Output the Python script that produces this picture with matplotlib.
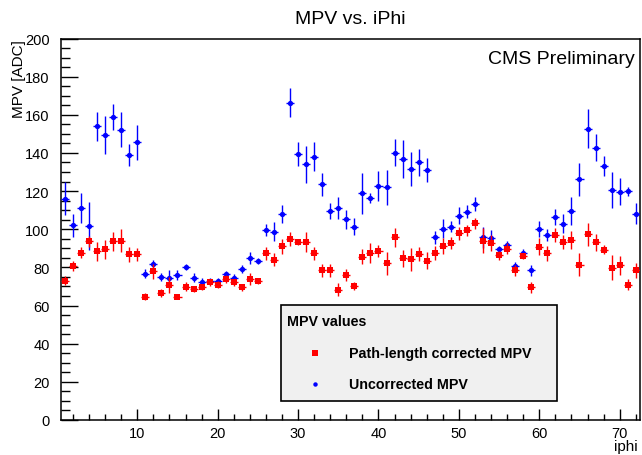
import numpy as np
import matplotlib
matplotlib.use("Agg")
import matplotlib.pyplot as plt
from matplotlib.patches import Rectangle
from matplotlib.lines import Line2D
from matplotlib.ticker import MultipleLocator

plt.rcParams['font.family'] = ['Liberation Sans', 'DejaVu Sans']

iphi = list(range(1, 73))

mpv_corrected = [73.1, 80.5, 87.7, 93.6, 88.4, 89.4, 93.6, 94.1, 86.8, 86.8,
                 64.7, 77.9, 66.7, 70.9, 64.7, 69.8, 68.9, 69.8, 72.1, 71.0,
                 74.0, 72.1, 69.5, 74.0, 72.8, 87.3, 84.0, 91.0, 95.0, 93.1,
                 93.4, 87.3, 78.4, 78.4, 68.4, 76.1, 70.3, 85.7, 87.5, 88.7,
                 82.2, 95.7, 84.7, 84.2, 87.0, 83.5, 87.5, 91.0, 92.7, 97.8,
                 99.4, 103.1, 94.1, 92.9, 86.3, 89.9, 78.4, 86.1, 69.5, 90.8,
                 87.5, 97.0, 93.1, 94.5, 81.5, 97.3, 93.1, 89.2, 79.8, 81.0,
                 71.0, 78.4]
err_corrected = [2.3, 2.6, 2.9, 3.0, 5.1, 5.2, 4.8, 5.9, 3.8, 3.3,
                 2.0, 4.1, 2.2, 4.1, 1.3, 2.3, 1.6, 1.7, 1.9, 2.0,
                 2.1, 1.9, 2.0, 3.1, 1.5, 3.5, 3.3, 4.1, 3.8, 1.6,
                 5.2, 3.5, 3.5, 3.5, 3.2, 3.0, 1.9, 3.9, 5.1, 3.2,
                 6.1, 4.8, 4.4, 6.1, 3.9, 4.4, 3.5, 4.2, 3.0, 3.4,
                 3.0, 3.0, 6.3, 4.1, 2.4, 3.0, 3.0, 1.7, 2.7, 4.4,
                 3.9, 3.7, 3.7, 4.6, 6.1, 6.0, 4.5, 2.4, 6.6, 5.2,
                 3.0, 3.8]

mpv_uncorrected = [116.0, 102.0, 111.1, 101.7, 154.0, 149.4, 158.9, 152.2, 138.9, 145.6,
                   76.8, 81.7, 75.1, 74.7, 76.1, 80.3, 74.7, 72.6, 72.9, 72.7,
                   76.3, 74.7, 79.1, 84.9, 83.5, 99.7, 98.7, 108.0, 166.4, 139.5,
                   134.0, 138.1, 123.5, 109.5, 111.1, 105.2, 101.3, 118.8, 116.5, 122.8,
                   122.0, 140.2, 136.7, 131.6, 135.1, 131.1, 95.9, 100.3, 101.3, 107.1,
                   109.2, 113.2, 95.9, 95.5, 89.4, 91.5, 80.5, 87.5, 78.4, 100.1,
                   97.1, 106.4, 102.9, 109.7, 126.1, 152.8, 142.8, 133.0, 120.7, 119.7,
                   119.8, 108.1]
err_uncorrected = [8.6, 6.1, 7.7, 12.7, 7.7, 10.0, 6.9, 9.1, 5.8, 9.2,
                   2.1, 2.2, 2.0, 4.0, 2.6, 1.7, 2.6, 1.6, 1.7, 1.5,
                   2.0, 1.7, 1.9, 3.2, 1.5, 3.0, 5.1, 4.5, 7.4, 6.5,
                   9.6, 7.6, 6.2, 4.2, 5.6, 4.9, 4.5, 10.8, 2.7, 7.9,
                   9.1, 7.1, 10.0, 9.1, 7.2, 6.3, 3.4, 4.9, 2.9, 4.6,
                   3.5, 3.6, 5.5, 4.0, 2.0, 2.1, 2.4, 2.0, 3.0, 4.2,
                   3.0, 4.4, 5.0, 7.4, 8.5, 10.0, 6.9, 5.3, 9.4, 7.0,
                   2.5, 5.6]

title = "MPV vs. iPhi"
xlabel = "iphi"
ylabel = "MPV [ADC]"
legend_title = "MPV values"
label_corr = "Path-length corrected MPV"
label_uncorr = "Uncorrected MPV"
watermark = "CMS Preliminary"

fig = plt.figure(figsize=(6.42, 4.56), dpi=100)
ax = fig.add_axes([60.9 / 642, 1 - 421 / 456, (639.8 - 60.9) / 642, (421 - 39.5) / 456])

ax.errorbar(iphi, mpv_uncorrected, yerr=err_uncorrected, xerr=0.5, fmt='o',
            color='#0000ff', ecolor='#0000ff', elinewidth=1.0, capsize=0,
            markersize=3.8, markeredgewidth=0, zorder=3)
ax.errorbar(iphi, mpv_corrected, yerr=err_corrected, xerr=0.5, fmt='s',
            color='#ff0000', ecolor='#ff0000', elinewidth=1.0, capsize=0,
            markersize=4.8, markeredgewidth=0, zorder=4)

ax.set_xlim(0.5, 72.5)
ax.set_ylim(0, 200)
ax.xaxis.set_major_locator(MultipleLocator(10))
ax.xaxis.set_minor_locator(MultipleLocator(2))
ax.yaxis.set_major_locator(MultipleLocator(20))
ax.yaxis.set_minor_locator(MultipleLocator(5))
ax.tick_params(axis='both', which='both', direction='in', top=False, right=False,
               width=1.0, color='black', labelsize=10.5)
ax.tick_params(axis='y', which='major', length=12, pad=8)
ax.tick_params(axis='y', which='minor', length=6.5)
ax.tick_params(axis='x', which='major', length=8, pad=4)
ax.tick_params(axis='x', which='minor', length=4.3)
for s in ax.spines.values():
    s.set_linewidth(1.1)
    s.set_color('black')

fig.text(350 / 642, 1 - 20 / 456, title, ha='center', va='center', fontsize=14)
fig.text(638 / 642, 1 - 451 / 456, xlabel, ha='right', va='baseline', fontsize=11)
fig.text(19 / 642, 1 - 40 / 456, ylabel, ha='center', va='top', rotation=90, fontsize=11)
fig.text(635 / 642, 1 - 59 / 456, watermark, ha='right', va='center', fontsize=14)

# legend box
fig.patches.append(Rectangle((281 / 642, 1 - 402 / 456), 276 / 642, 96 / 456,
                             transform=fig.transFigure, facecolor='#f0f0f0',
                             edgecolor='black', linewidth=1.2, zorder=5))
fig.text(287 / 642, 1 - 322 / 456, legend_title, ha='left', va='center',
         fontsize=10.3, fontweight='bold', zorder=6)
fig.lines.append(Line2D([315 / 642], [1 - 354 / 456], marker='s', color='#ff0000',
                        markersize=3.8, markeredgewidth=0, transform=fig.transFigure, zorder=6))
fig.lines.append(Line2D([315 / 642], [1 - 385 / 456], marker='o', color='#0000ff',
                        markersize=3.2, markeredgewidth=0, transform=fig.transFigure, zorder=6))
fig.text(349 / 642, 1 - 354 / 456, label_corr, ha='left', va='center',
         fontsize=10.3, fontweight='bold', zorder=6)
fig.text(349 / 642, 1 - 385 / 456, label_uncorr, ha='left', va='center',
         fontsize=10.3, fontweight='bold', zorder=6)

fig.savefig("out.png", dpi=100)
